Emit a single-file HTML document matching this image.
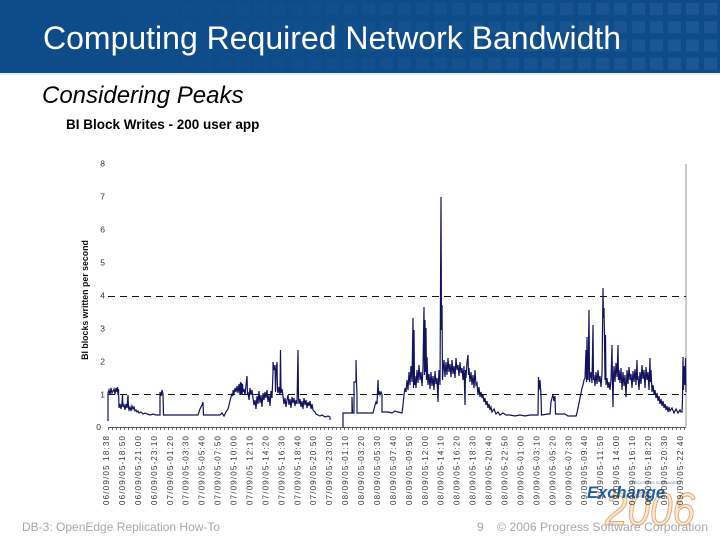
<!DOCTYPE html>
<html>
<head>
<meta charset="utf-8">
<style>
html,body{margin:0;padding:0;background:#fff;}
body{width:720px;height:540px;overflow:hidden;position:relative;}
svg{position:absolute;left:0;top:0;}
</style>
</head>
<body>
<svg width="720" height="540" viewBox="0 0 720 540" xmlns="http://www.w3.org/2000/svg" font-family="Liberation Sans, Arial, sans-serif">
  <defs>
    <pattern id="sq" x="0" y="2" width="18" height="18.25" patternUnits="userSpaceOnUse">
      <rect x="2" y="1" width="13" height="12" fill="#3a6fa8"/>
    </pattern>
    <linearGradient id="fade" x1="0" y1="0" x2="1" y2="0">
      <stop offset="0" stop-color="#fff" stop-opacity="0"/>
      <stop offset="0.4" stop-color="#fff" stop-opacity="0.08"/>
      <stop offset="1" stop-color="#fff" stop-opacity="0.35"/>
    </linearGradient>
    <mask id="m">
      <rect x="0" y="0" width="720" height="73" fill="url(#fade)"/>
    </mask>
  </defs>

  <!-- header -->
  <rect x="0" y="0" width="720" height="73" fill="#0e4b89"/>
  <rect x="0" y="0" width="720" height="73" fill="url(#sq)" mask="url(#m)"/>
  <rect x="0" y="73" width="720" height="2" fill="#e8eef5"/>
  <text x="43" y="49" font-size="32" fill="#ffffff">Computing Required Network Bandwidth</text>

  <text x="42" y="103" font-size="24" font-style="italic" fill="#000">Considering Peaks</text>
  <text x="66" y="129" font-size="13.5" font-weight="bold" fill="#000">BI Block Writes - 200 user app</text>

  <!-- Exchange 2006 logo -->
  <text x="605" y="525" font-size="46" font-style="italic" fill="#f8e6d2" stroke="#e3a86c" stroke-width="1" textLength="90" lengthAdjust="spacingAndGlyphs">2006</text>
  <text x="632" y="484" font-size="4" fill="#6a8bb5">PROGRESS SOFTWARE</text>
  <text x="587" y="498" font-size="17" font-style="italic" font-weight="bold" fill="#1f5ea8" textLength="78" lengthAdjust="spacingAndGlyphs">Exchange</text>

  <!-- y axis title -->
  <text transform="translate(88,300) rotate(-90)" font-size="8.8" font-weight="bold" text-anchor="middle" fill="#111">BI blocks written per second</text>

  <!-- y labels -->
  <g font-size="8.5" fill="#333" text-anchor="end">
    <text x="105" y="166.5">8</text>
    <text x="105" y="199.5">7</text>
    <text x="105" y="232.5">6</text>
    <text x="105" y="265.5">5</text>
    <text x="105" y="298.5">4</text>
    <text x="105" y="331.5">3</text>
    <text x="105" y="364.5">2</text>
    <text x="105" y="397.5">1</text>
    <text x="101" y="430">0</text>
  </g>

  <!-- right border -->
  <line x1="686" y1="164" x2="686" y2="427" stroke="#9a9a9a" stroke-width="1"/>

  <!-- dashed reference lines -->
  <line x1="108" y1="394.5" x2="686" y2="394.5" stroke="#111" stroke-width="1" stroke-dasharray="7,5"/>
  <line x1="108" y1="296.5" x2="686" y2="296.5" stroke="#111" stroke-width="1" stroke-dasharray="7,5"/>

  <!-- x axis -->
  <line x1="108" y1="427.5" x2="686" y2="427.5" stroke="#555" stroke-width="1"/>
  <path d="M108.5 427v3M112.5 427v3M116.5 427v3M120.5 427v3M124.5 427v3M128.5 427v3M132.5 427v3M136.5 427v3M140.5 427v3M144.5 427v3M148.5 427v3M152.5 427v3M156.5 427v3M160.5 427v3M164.5 427v3M168.5 427v3M172.5 427v3M176.5 427v3M180.5 427v3M184.5 427v3M188.5 427v3M192.5 427v3M196.5 427v3M200.5 427v3M204.5 427v3M208.5 427v3M212.5 427v3M216.5 427v3M220.5 427v3M224.5 427v3M228.5 427v3M232.5 427v3M236.5 427v3M240.5 427v3M244.5 427v3M248.5 427v3M252.5 427v3M256.5 427v3M260.5 427v3M264.5 427v3M268.5 427v3M272.5 427v3M276.5 427v3M280.5 427v3M284.5 427v3M288.5 427v3M292.5 427v3M296.5 427v3M300.5 427v3M304.5 427v3M308.5 427v3M312.5 427v3M316.5 427v3M320.5 427v3M324.5 427v3M328.5 427v3M332.5 427v3M336.5 427v3M340.5 427v3M344.5 427v3M348.5 427v3M352.5 427v3M356.5 427v3M360.5 427v3M364.5 427v3M368.5 427v3M372.5 427v3M376.5 427v3M380.5 427v3M384.5 427v3M388.5 427v3M392.5 427v3M396.5 427v3M400.5 427v3M404.5 427v3M408.5 427v3M412.5 427v3M416.5 427v3M420.5 427v3M424.5 427v3M428.5 427v3M432.5 427v3M436.5 427v3M440.5 427v3M444.5 427v3M448.5 427v3M452.5 427v3M456.5 427v3M460.5 427v3M464.5 427v3M468.5 427v3M472.5 427v3M476.5 427v3M480.5 427v3M484.5 427v3M488.5 427v3M492.5 427v3M496.5 427v3M500.5 427v3M504.5 427v3M508.5 427v3M512.5 427v3M516.5 427v3M520.5 427v3M524.5 427v3M528.5 427v3M532.5 427v3M536.5 427v3M540.5 427v3M544.5 427v3M548.5 427v3M552.5 427v3M556.5 427v3M560.5 427v3M564.5 427v3M568.5 427v3M572.5 427v3M576.5 427v3M580.5 427v3M584.5 427v3M588.5 427v3M592.5 427v3M596.5 427v3M600.5 427v3M604.5 427v3M608.5 427v3M612.5 427v3M616.5 427v3M620.5 427v3M624.5 427v3M628.5 427v3M632.5 427v3M636.5 427v3M640.5 427v3M644.5 427v3M648.5 427v3M652.5 427v3M656.5 427v3M660.5 427v3M664.5 427v3M668.5 427v3M672.5 427v3M676.5 427v3M680.5 427v3M684.5 427v3" stroke="#666" stroke-width="1"/>

  <!-- data series -->
  <g fill="none" stroke="#12125e" stroke-width="1.2" stroke-linejoin="miter">
    <polyline points="108,421 108,393 109,390 110,395 111,388 112,393 113,391 114,389 115,394 116,388 117,392 117.5,387 118,395 118.5,389 119,408 120,404 121,409 122,403 122.5,395 123,407 124,405 125,410 126,404 127,408 128,395 128.5,408 129,410 130,407 131,411 132,406 133,409 134,407 135,411 136,410 137,412 138,411 139,413 141,412 143,414 145,413 147,414 150,415 153,414 156,415 159,415 160,415 160,392 161,396 162,390 163,394 163.5,415 170,415 180,415 190,415 198,415 199,412 200,409 201,407 202,405 203,402 203.5,415 210,415 220,415 222,413 224,416 226,412 228,409 229,405 230,401 231,397 232,394 233,396 233,390 234,394 235,388 236,392 237,386 238,393 239,384 240,395 240.5,382 241,394 241.5,383 242,395 242.5,384 243,392 244,389 245,395 246,385 247,376 247.5,395 248,392 249,400 250,388 251,395 252,390 253,398 254,405 255,400 256,409 257,396 258,404 259,391 260,403 261,395 262,407 263,393 264,400 265,392 266,398 267,390 268,402 269,395 270,406 271,391 272,398 273,372 273,362 274,370 275,365 275.5,392 276,373 277,362 277.5,390 278,393 279,387 280,395 280.5,350 281,393 282,389 283,396 284,404 285,398 286,407 287,400 288,395 289,405 290,399 291,408 292,397 293,403 294,398 295,406 296,400 297,404 298,350 298.5,398 299,404 300,399 301,407 302,401 303,409 304,398 305,405 306,400 307,408 308,402 309,406 310,401 311,409 312,404 313,410 314,411 315,412 316,414 318,415 320,416 322,415 325,417 328,416 330,417 330,420"/>
    <polyline points="343,427 343,422 343,413 348,413 352,413 352,397 352.5,413 354,413 354,382 356,382 356,360 356.5,382 357,395 357,413 362,413 368,413 373,413 374,409 375,405 376,402 377,404 378,380 378.5,394 379,391 380,395 381,392 382,394 382,412 388,412 392,413 395,411 398,412 402,413 403,405 404,395 405,388 406,392 407,380 408,390 409,372 410,385 411,366 412,382 413,318 413.5,388 414,330 414.5,385 415,376 416,388 417,370 418,383 419,365 420,380 421,372 422,386 423,368 424,307 424.5,375 425,320 425.5,372 426,328 426.5,380 427,357 428,385 429,374 430,389 431,372 432,386 433,376 434,390 435,371 436,384 437,378 438,402 438.5,380 439,370 440,385 441,197 441.5,330 442,305 442.5,380 443,372 444,360 445,377 446,362 447,375 448,358 449,372 450,364 451,377 452,360 453,374 454,366 455,378 456,358 457,370 458,365 459,376 460,362 461,373 462,368 463,380 464,366 465,405 465.5,370 466,378 467,362 468,355 468.5,375 469,368 470,382 471,372 472,385 473,375 474,388 475,370 476,385 477,383 478,395 479,387 480,397 481,392 482,398 483,395 484,402 485,398 486,405 487,401 488,408 489,404 490,410 491,407 492,412 494,409 496,414 498,412 500,415 503,413 506,415 510,415 515,416 520,415 525,416 530,415 537,415 538,415 538.5,377 539,390 540,380 541,395 541.5,415 548,414 550,414 551,402 552,398 553,395 554,401 555,396 555.5,414 560,414 565,414 568,416 572,416 576,416 577,413 578,408 579,403 580,398 581,393 582,388 583,385 584,380 585,378 586,350 586.5,382 587,337 587.5,378 588,380 589,310 589.5,382 590,378 591,372 592,383 593,325 593.5,380 594,375 595,386 596,372 597,384 598,370 599,382 600,376 601,387 602,374 603,288 603.5,318 604,308 604.5,340 605,380 605.5,335 606,385 607,378 608,388 609,382 610,390 611,380 612,345 612.5,385 613,407 613.5,378 614,366 615,382 616,363 617,377 618,345 618.5,380 619,370 620,383 621,368 622,390 623,372 624,386 625,375 626,397 627,370 628,384 629,367 630,380 631,374 632,388 633,371 634,382 635,369 636,385 637,360 637.5,380 638,376 639,390 640,372 641,384 642,365 643,379 644,370 645,388 646,367 647,380 648,372 649,390 650,358 650.5,382 651,370 652,392 653,385 654,394 655,390 656,398 657,393 658,401 659,396 660,404 661,399 662,406 663,401 664,408 665,404 666,410 667,406 668,412 669,407 670,411 672,408 674,413 676,409 678,413 680,410 681,412 682,412 682.5,400 683,357 683.5,390 684,366 685,385 685.5,358 686,392"/>
  </g>

  <!-- x labels -->
  <g font-size="8" fill="#333" text-anchor="end">
    <text transform="translate(106,436) rotate(-90)" dy="3" textLength="69" lengthAdjust="spacing">06/09/05 18:38</text>
    <text transform="translate(121.9,436) rotate(-90)" dy="3" textLength="69" lengthAdjust="spacing">06/09/05-18:50</text>
    <text transform="translate(137.9,436) rotate(-90)" dy="3" textLength="69" lengthAdjust="spacing">06/09/05-21:00</text>
    <text transform="translate(153.8,436) rotate(-90)" dy="3" textLength="69" lengthAdjust="spacing">06/09/05-23:10</text>
    <text transform="translate(169.8,436) rotate(-90)" dy="3" textLength="69" lengthAdjust="spacing">07/09/05-01:20</text>
    <text transform="translate(185.7,436) rotate(-90)" dy="3" textLength="69" lengthAdjust="spacing">07/09/05-03:30</text>
    <text transform="translate(201.6,436) rotate(-90)" dy="3" textLength="69" lengthAdjust="spacing">07/09/05-05:40</text>
    <text transform="translate(217.6,436) rotate(-90)" dy="3" textLength="69" lengthAdjust="spacing">07/09/05-07:50</text>
    <text transform="translate(233.5,436) rotate(-90)" dy="3" textLength="69" lengthAdjust="spacing">07/09/05-10:00</text>
    <text transform="translate(249.5,436) rotate(-90)" dy="3" textLength="69" lengthAdjust="spacing">07/09/05 12:10</text>
    <text transform="translate(265.4,436) rotate(-90)" dy="3" textLength="69" lengthAdjust="spacing">07/09/05-14:20</text>
    <text transform="translate(281.3,436) rotate(-90)" dy="3" textLength="69" lengthAdjust="spacing">07/09/05-16:30</text>
    <text transform="translate(297.3,436) rotate(-90)" dy="3" textLength="69" lengthAdjust="spacing">07/09/05-18:40</text>
    <text transform="translate(313.2,436) rotate(-90)" dy="3" textLength="69" lengthAdjust="spacing">07/09/05-20:50</text>
    <text transform="translate(329.2,436) rotate(-90)" dy="3" textLength="69" lengthAdjust="spacing">07/09/05-23:00</text>
    <text transform="translate(345.1,436) rotate(-90)" dy="3" textLength="69" lengthAdjust="spacing">08/09/05-01:10</text>
    <text transform="translate(361,436) rotate(-90)" dy="3" textLength="69" lengthAdjust="spacing">08/09/05-03:20</text>
    <text transform="translate(377,436) rotate(-90)" dy="3" textLength="69" lengthAdjust="spacing">08/09/05-05:30</text>
    <text transform="translate(392.9,436) rotate(-90)" dy="3" textLength="69" lengthAdjust="spacing">08/09/05-07:40</text>
    <text transform="translate(408.9,436) rotate(-90)" dy="3" textLength="69" lengthAdjust="spacing">08/09/05-09:50</text>
    <text transform="translate(424.8,436) rotate(-90)" dy="3" textLength="69" lengthAdjust="spacing">08/09/05-12:00</text>
    <text transform="translate(440.7,436) rotate(-90)" dy="3" textLength="69" lengthAdjust="spacing">08/09/05-14:10</text>
    <text transform="translate(456.7,436) rotate(-90)" dy="3" textLength="69" lengthAdjust="spacing">08/09/05-16:20</text>
    <text transform="translate(472.6,436) rotate(-90)" dy="3" textLength="69" lengthAdjust="spacing">08/09/05-18:30</text>
    <text transform="translate(488.6,436) rotate(-90)" dy="3" textLength="69" lengthAdjust="spacing">08/09/05-20:40</text>
    <text transform="translate(504.5,436) rotate(-90)" dy="3" textLength="69" lengthAdjust="spacing">08/09/05-22:50</text>
    <text transform="translate(520.4,436) rotate(-90)" dy="3" textLength="69" lengthAdjust="spacing">09/09/05-01:00</text>
    <text transform="translate(536.4,436) rotate(-90)" dy="3" textLength="69" lengthAdjust="spacing">09/09/05-03:10</text>
    <text transform="translate(552.3,436) rotate(-90)" dy="3" textLength="69" lengthAdjust="spacing">09/09/05-05:20</text>
    <text transform="translate(568.3,436) rotate(-90)" dy="3" textLength="69" lengthAdjust="spacing">09/09/05-07:30</text>
    <text transform="translate(584.2,436) rotate(-90)" dy="3" textLength="69" lengthAdjust="spacing">09/09/05-09:40</text>
    <text transform="translate(600.1,436) rotate(-90)" dy="3" textLength="69" lengthAdjust="spacing">09/09/05-11:50</text>
    <text transform="translate(616.1,436) rotate(-90)" dy="3" textLength="69" lengthAdjust="spacing">09/09/05 14:00</text>
    <text transform="translate(632,436) rotate(-90)" dy="3" textLength="69" lengthAdjust="spacing">09/09/05-16:10</text>
    <text transform="translate(648,436) rotate(-90)" dy="3" textLength="69" lengthAdjust="spacing">09/09/05-18:20</text>
    <text transform="translate(663.9,436) rotate(-90)" dy="3" textLength="69" lengthAdjust="spacing">09/09/05-20:30</text>
    <text transform="translate(679.8,436) rotate(-90)" dy="3" textLength="69" lengthAdjust="spacing">09/09/05-22:40</text>
  </g>

  <!-- footer -->
  <g font-size="12" fill="#a8a8a8">
    <text x="22" y="531">DB-3: OpenEdge Replication How-To</text>
    <text x="477" y="531">9</text>
    <text x="497" y="531" textLength="211" lengthAdjust="spacingAndGlyphs">© 2006 Progress Software Corporation</text>
  </g>
</svg>
</body>
</html>
